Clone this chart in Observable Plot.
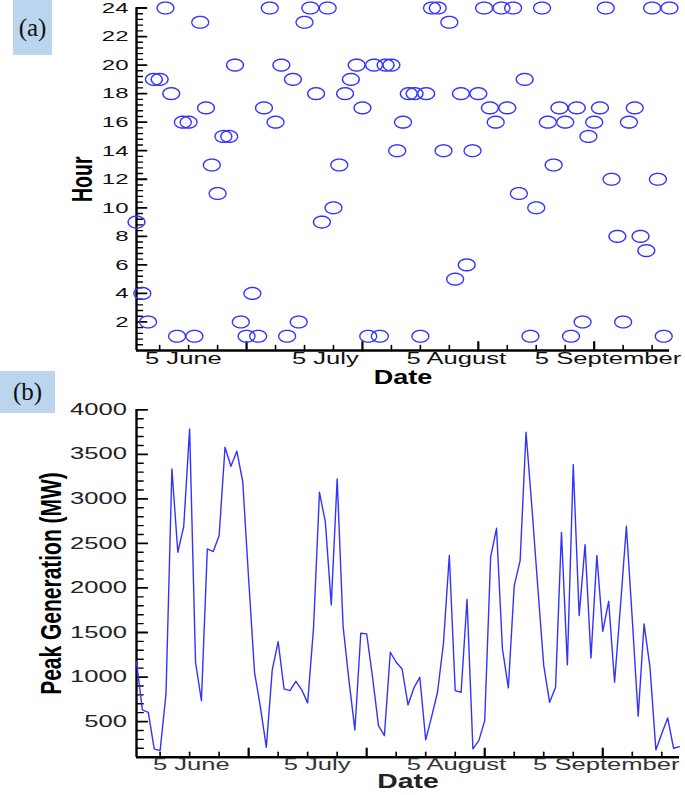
<!DOCTYPE html>
<html><head><meta charset="utf-8">
<script src="https://cdn.jsdelivr.net/npm/d3@7"></script>
<script src="https://cdn.jsdelivr.net/npm/@observablehq/plot@0.6"></script>
<style>
body{margin:0;background:#fff;}
#wrap{position:relative;width:685px;height:795px;overflow:hidden;font-family:"Liberation Sans",Arial,sans-serif;}
#wrap svg{position:absolute;left:0;}
.tag{position:absolute;z-index:2;background:#bcd5ee;font-family:"Liberation Serif","Times New Roman",serif;font-size:25px;color:#111;display:flex;align-items:center;justify-content:center;}
</style></head><body>
<div id="wrap">
  <div class="tag" style="left:13px;top:0;width:39px;height:55px">(a)</div>
  <div class="tag" style="left:0;top:371px;width:55px;height:42px">(b)</div>
</div>
<script>
// ---- data ----
const days = [1,2,3,4,5,6,7,8,9,10,11,12,13,14,15,16,17,18,19,20,21,22,23,24,25,26,27,28,29,30,
  31,32,33,34,35,36,37,38,39,40,41,42,43,44,45,46,47,48,49,50,51,52,53,54,55,56,57,58,59,60,
  61,62,63,64,65,66,67,68,69,70,71,72,73,74,75,76,77,78,79,80,81,82,83,84,85,86,87,88,89,90,91,92,93];
const peakHour = [9,4,2,19,19,24,18,1,16,16, 1,23,17,13,11,15,15,20,2,1,
  4,1,17,24,16,20,1,19,2,23, 24,18,9,24,10,13,18,19,20,17, 1,20,1,20,20,14,16,18,18,1,
  18,24,24,14,23,5,18,6,14,18, 24,17,16,24,17,24,11,19,1,10, 24,16,13,17,16,1,17,2,15,16,
  17,24,12,8,2,16,17,8,7,24, 12,1,24];
const peakMW = [1170,631,604,193,174,811,3337,2401,2689,3786, 1166,735,2439,2409,2588,3580,3366,3535,3195,2100,
  1053,660,211,1080,1398,867,848,952,856,710, 1558,3074,2738,1810,3225,1570,960,406,1491,1484,
  997,455,342,1278,1166,1091,687,878,997,294, 556,829,1372,2364,848,829,1870,193,286,511,
  2345,2670,1316,878,2027,2307,3748,2900,2000,1128, 716,885,2626,1136,3385,1690,2487,1215,2364,1514,
  1850,941,1800,2693,1650,559,1597,1109,182,365, 541,200,219];
const monthLabels = ["5 June", "5 July", "5 August", "5 September"];
const monthPosA = [9.1, 33.6, 56.2, 82.4];
const monthPosB = [10.3, 31.6, 55.2, 80.6];
const hourTickLabels = [2,4,6,8,10,12,14,16,18,20,22,24];
const mwTickLabels = [500,1000,1500,2000,2500,3000,3500,4000];

const rowsA = days.map((d, i) => ({day: d, hour: peakHour[i]}));
const rowsB = days.map((d, i) => ({day: d, mw: peakMW[i]}));

// ---- helpers ----
const BLUE = "#3333ff";
const ellipse = {draw(ctx) {
  const rx = 8.4, ry = 5.9, n = 60;
  for (let k = 0; k <= n; k++) {
    const a = 2 * Math.PI * k / n, px = rx * Math.cos(a), py = ry * Math.sin(a);
    if (k === 0) ctx.moveTo(px, py); else ctx.lineTo(px, py);
  }
  ctx.closePath();
}};
const tickShape = {draw(ctx, l) { ctx.moveTo(0, 0); ctx.lineTo(0, -l); }};
const xMinor = d3.range(5, 93, 5).filter(d => d % 20 !== 0);
const xMajor = [20, 40, 60, 80];

function yTicks(values, len, sw) {
  return Plot.vector(values, {y: d => d, frameAnchor: "left", rotate: 90, length: len, anchor: "start",
    shape: tickShape, stroke: "#000", strokeWidth: sw});
}
function xTicks(values, len, sw) {
  return Plot.vector(values, {x: d => d, frameAnchor: "bottom", rotate: 0, length: len, anchor: "start",
    shape: tickShape, stroke: "#000", strokeWidth: sw});
}
// horizontally stretched lettering, as in the (resampled) original figure
function stretch(svg, rule) {
  svg.querySelectorAll("text").forEach(t => {
    const s = rule(t.textContent);
    if (!s) return;
    let x = 0, y = 0;
    const ax = t.getAttribute("x"), ay = t.getAttribute("y");
    if (ax !== null && !isNaN(+ax)) { x = +ax; t.removeAttribute("x"); }
    if (ay !== null && !isNaN(+ay)) { y = +ay; t.removeAttribute("y"); }
    const tr = t.getAttribute("transform") || "";
    t.setAttribute("transform", `${tr} translate(${x},${y}) scale(${s[0]},${s[1]})`);
  });
}

const font = "Liberation Sans, Arial, Helvetica, sans-serif";

// ---- panel (a) ----
const hourMinor = d3.range(0.4, 24.01, 0.4).filter(d => Math.abs(d / 2 - Math.round(d / 2)) > 0.01);
const plotA = Plot.plot({
  width: 685, height: 395,
  marginLeft: 136, marginRight: 16, marginTop: 7.5, marginBottom: 45,
  style: {fontFamily: font, overflow: "visible", background: "transparent"},
  x: {domain: [1, 93], axis: null},
  y: {domain: [0, 24], axis: null},
  marks: [
    yTicks(hourMinor, 6, 1.4),
    yTicks(hourTickLabels, 10, 1.8),
    xTicks(xMinor, 5, 1.6),
    xTicks(xMajor, 8.5, 2.2),
    Plot.ruleX([1], {stroke: "#000", strokeWidth: 2.4}),
    Plot.ruleY([0], {stroke: "#000", strokeWidth: 2.4}),
    Plot.dot(rowsA, {x: "day", y: "hour", symbol: ellipse, fill: "none", stroke: BLUE, strokeWidth: 1.4}),
    Plot.text(hourTickLabels, {y: d => d, text: d => String(d), frameAnchor: "left", dx: -8,
      textAnchor: "end", fontSize: 15, fill: "#111"}),
    Plot.text(monthPosA, {x: d => d, text: (d, i) => monthLabels[i], frameAnchor: "bottom", dy: 13.5,
      textAnchor: "middle", fontSize: 16, fill: "#111"}),
    Plot.text(["Hour"], {frameAnchor: "left", dx: -54, rotate: -90, text: d => d, textAnchor: "middle",
      fontSize: 19.5, fontWeight: "bold", fill: "#000"}),
    Plot.text(["Date"], {frameAnchor: "bottom", dy: 33, text: d => d, textAnchor: "middle",
      fontSize: 20, fontWeight: "bold", fill: "#000"})
  ]
});
stretch(plotA, s => s === "Hour" ? [1, 1.55] : s === "Date" ? [1.35, 1] : [1.6, 1]);
plotA.style.top = "0px";
document.getElementById("wrap").appendChild(plotA);

// ---- panel (b) ----
const mwMinor = d3.range(200, 4000, 100).filter(d => d % 500 !== 0);
const plotB = Plot.plot({
  width: 685, height: 400,
  marginLeft: 136, marginRight: 6, marginTop: 14.3, marginBottom: 38.3,
  style: {fontFamily: font, overflow: "visible", background: "transparent"},
  x: {domain: [1, 93], axis: null},
  y: {domain: [100, 4000], axis: null},
  marks: [
    yTicks(mwMinor, 6.7, 1.4),
    yTicks(mwTickLabels, 10.7, 1.8),
    xTicks(xMinor, 5, 1.6),
    xTicks(xMajor, 8.5, 2.2),
    Plot.ruleX([1], {stroke: "#000", strokeWidth: 2.4}),
    Plot.ruleY([100], {stroke: "#000", strokeWidth: 2.4}),
    Plot.line(rowsB, {x: "day", y: "mw", stroke: BLUE, strokeWidth: 1.4}),
    Plot.text(mwTickLabels, {y: d => d, text: d => String(d), frameAnchor: "left", dx: -9.5,
      textAnchor: "end", fontSize: 16, fill: "#222"}),
    Plot.text(monthPosB, {x: d => d, text: (d, i) => monthLabels[i], frameAnchor: "bottom", dy: 13,
      textAnchor: "middle", fontSize: 16, fill: "#333"}),
    Plot.text(["Peak Generation (MW)"], {frameAnchor: "left", dx: -85, rotate: -90, text: d => d,
      textAnchor: "middle", fontSize: 21, fontWeight: "bold", fill: "#000"}),
    Plot.text(["Date"], {frameAnchor: "bottom", dy: 31, text: d => d, textAnchor: "middle",
      fontSize: 20.5, fontWeight: "bold", fill: "#222"})
  ]
});
stretch(plotB, s => s === "Peak Generation (MW)" ? [1, 1.4] : s === "Date" ? [1.38, 1] : [1.6, 1]);
plotB.style.top = "395px";
document.getElementById("wrap").appendChild(plotB);
</script>
</body></html>
